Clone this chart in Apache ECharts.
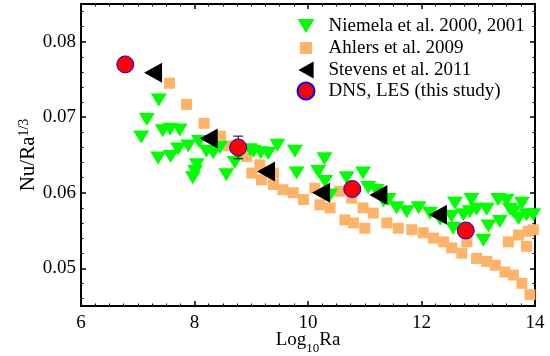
<!DOCTYPE html>
<html>
<head>
<meta charset="utf-8">
<script src="https://cdn.jsdelivr.net/npm/echarts@6/dist/echarts.min.js"></script>
<style>
  html, body { margin: 0; padding: 0; background: #fff; }
  #chart { width: 550px; height: 356px; }
</style>
</head>
<body>
<div id="chart"></div>
<script>
// Nu/Ra^(1/3) vs log10 Ra, four data sets.
const niemela = [
  [7.06, 0.0674], [7.16, 0.0697], [7.37, 0.0723], [7.44, 0.0682], [7.57, 0.0684],
  [7.74, 0.0683], [7.36, 0.0646], [7.58, 0.0648], [7.71, 0.0658], [7.89, 0.0662],
  [8.08, 0.0668], [8.21, 0.0655], [8.33, 0.0653], [8.45, 0.0660], [8.04, 0.0637],
  [8.01, 0.0628], [7.97, 0.0620], [8.56, 0.0624], [8.71, 0.0640], [8.98, 0.0657],
  [9.04, 0.0655], [9.17, 0.0653], [9.30, 0.0652], [9.46, 0.0663], [9.77, 0.0655],
  [9.80, 0.0626], [10.29, 0.0645], [10.18, 0.0628], [10.30, 0.0615], [10.39, 0.0597],
  [10.68, 0.0620], [10.97, 0.0626], [11.06, 0.0607], [11.21, 0.0603], [11.33, 0.0589],
  [11.42, 0.0591], [11.56, 0.0580], [11.74, 0.0575], [11.95, 0.0580], [12.15, 0.0573],
  [12.33, 0.0565], [12.59, 0.0586], [12.53, 0.0569], [12.56, 0.0553], [12.74, 0.0571],
  [12.88, 0.0591], [12.85, 0.0575], [12.97, 0.0578], [13.09, 0.0537], [13.15, 0.0578],
  [13.18, 0.0556], [13.35, 0.0591], [13.38, 0.0562], [13.50, 0.0590], [13.56, 0.0578],
  [13.71, 0.0566], [13.77, 0.0586], [13.62, 0.0575], [13.85, 0.0571], [13.97, 0.0571]
];
const ahlers = [
  [7.56, 0.0745], [7.86, 0.0717], [8.17, 0.0692], [8.46, 0.0675], [8.60, 0.0662],
  [8.92, 0.0648], [9.01, 0.0626], [9.15, 0.0637], [9.39, 0.0626], [9.18, 0.0617],
  [9.39, 0.0611], [9.56, 0.0604], [9.74, 0.0600], [9.92, 0.0591], [10.12, 0.0606],
  [10.21, 0.0584], [10.39, 0.0580], [10.56, 0.0602], [10.65, 0.0564], [10.80, 0.0560],
  [10.77, 0.0593], [10.97, 0.0580], [11.00, 0.0553], [11.15, 0.0573], [11.39, 0.0560],
  [11.59, 0.0553], [11.83, 0.0551], [12.03, 0.0547], [12.21, 0.0540], [12.39, 0.0535],
  [12.53, 0.0527], [12.71, 0.0520], [12.80, 0.0535], [12.97, 0.0513], [13.15, 0.0509],
  [13.30, 0.0504], [13.47, 0.0495], [13.62, 0.0491], [13.77, 0.0480], [13.91, 0.0465],
  [13.53, 0.0535], [13.71, 0.0544], [13.85, 0.0529], [13.88, 0.0549], [13.97, 0.0551]
];
const stevens = [
  [7.27, 0.0759], [8.25, 0.0672], [9.26, 0.0628], [10.23, 0.0600], [11.24, 0.0597], [12.29, 0.0571]
];
const dns = [
  [6.78, 0.0770], [8.77, 0.0660], [10.78, 0.0605], [12.78, 0.0550]
];
// [x, low, high]
const dnsErr = [[8.77, 0.0645, 0.0675]];

const names = ["Niemela et al. 2000, 2001", "Ahlers et al. 2009", "Stevens et al. 2011", "DNS, LES (this study)"];
const yMajor = [0.05, 0.06, 0.07, 0.08];
const yMinor = [];
for (let i = 46; i <= 84; i += 2) if (i % 10 !== 0) yMinor.push(i / 1000);

const FONT = "Liberation Serif";
const TRI_DOWN = "path://M0,0L16,0L8,13Z";
const TRI_LEFT = "path://M18,0L18,20L0,10Z";

const axisLine = { show: true, lineStyle: { color: "#000", width: 2 } };
const labelStyle = { fontFamily: FONT, fontSize: 19, color: "#000" };

function xAx(pos, withLabel) {
  return {
    type: "value", min: 6, max: 14, interval: 2, position: pos,
    axisLine, splitLine: { show: false },
    axisTick: { inside: true, length: 5, lineStyle: { color: "#000", width: 1.5 } },
    minorTick: { show: true, splitNumber: 8, length: 2.5, lineStyle: { color: "#000", width: 1 } },
    axisLabel: withLabel ? { ...labelStyle, margin: 8 } : { show: false },
    name: withLabel ? "{m|Log}{s|10}{m|Ra}" : "",
    nameLocation: "middle", nameGap: 25, nameMoveOverlap: false,
    nameTextStyle: {
      rich: {
        m: { fontFamily: FONT, fontSize: 19, color: "#000", lineHeight: 24, verticalAlign: "top" },
        s: { fontFamily: FONT, fontSize: 13, color: "#000", lineHeight: 24, verticalAlign: "bottom" },
      },
    },
  };
}

function yAx(pos, major, withLabel) {
  return {
    type: "value", min: 0.045, max: 0.085, position: pos,
    axisLine: major ? axisLine : { show: false },
    splitLine: { show: false },
    axisTick: {
      inside: true, length: major ? 5 : 2.5, customValues: major ? yMajor : yMinor,
      lineStyle: { color: "#000", width: major ? 1.5 : 1 },
    },
    axisLabel: withLabel
      ? { ...labelStyle, margin: 5, customValues: yMajor, formatter: (v) => v.toFixed(2) }
      : { show: false },
    name: withLabel ? "{m|Nu/Ra}{s|1/3}" : "",
    nameLocation: "middle", nameRotate: 90, nameGap: 42, nameMoveOverlap: false,
    nameTextStyle: {
      rich: {
        m: { fontFamily: FONT, fontSize: 21, color: "#000", lineHeight: 22, verticalAlign: "bottom" },
        s: { fontFamily: FONT, fontSize: 14, color: "#000", lineHeight: 22, verticalAlign: "top" },
      },
    },
  };
}

const chart = echarts.init(document.getElementById("chart"), null, { renderer: "canvas" });
chart.setOption({
  backgroundColor: "#fff",
  animation: false,
  grid: { left: 81, right: 15, top: 4, bottom: 50, outerBoundsMode: "none", containLabel: false },
  xAxis: [xAx("bottom", true), xAx("top", false)],
  yAxis: [yAx("left", true, true), yAx("left", false, false), yAx("right", true, false), yAx("right", false, false)],
  legend: {
    orient: "vertical", left: 290, top: 11, padding: 5,
    itemWidth: 17, itemHeight: 17, itemGap: 1,
    textStyle: { ...labelStyle, padding: [0, 0, 0, 9], lineHeight: 20 },
    data: [
      { name: names[0], icon: TRI_DOWN },
      { name: names[1], icon: "rect", itemStyle: { borderColor: "#fff", borderWidth: 5 } },
      { name: names[2], icon: TRI_LEFT },
      { name: names[3], icon: "circle" },
    ],
  },
  series: [
    {
      name: names[1], type: "scatter", data: ahlers, symbol: "rect", symbolSize: 11,
      itemStyle: { color: "#ffb366", opacity: 1 }, z: 2,
    },
    {
      name: names[0], type: "scatter", data: niemela, symbol: TRI_DOWN, symbolSize: [16, 13],
      itemStyle: { color: "#00ff00", opacity: 1 }, z: 3,
    },
    {
      name: names[2], type: "scatter", data: stevens, symbol: TRI_LEFT, symbolSize: [18, 20],
      itemStyle: { color: "#000", opacity: 1 }, z: 4,
    },
    {
      name: "err", type: "custom", data: dnsErr, z: 5,
      renderItem: (params, api) => {
        const lo = api.coord([api.value(0), api.value(1)]);
        const hi = api.coord([api.value(0), api.value(2)]);
        const st = { stroke: "#000", lineWidth: 1 };
        return {
          type: "group",
          children: [
            { type: "line", shape: { x1: lo[0], y1: lo[1], x2: hi[0], y2: hi[1] }, style: st },
            { type: "line", shape: { x1: lo[0] - 5, y1: lo[1], x2: lo[0] + 5, y2: lo[1] }, style: st },
            { type: "line", shape: { x1: hi[0] - 5, y1: hi[1], x2: hi[0] + 5, y2: hi[1] }, style: st },
          ],
        };
      },
    },
    {
      name: names[3], type: "scatter", data: dns, symbol: "circle", symbolSize: 17,
      itemStyle: { color: "#ff0000", borderColor: "#0000ff", borderWidth: 1, opacity: 1 }, z: 6,
    },
  ],
});
</script>
</body>
</html>
